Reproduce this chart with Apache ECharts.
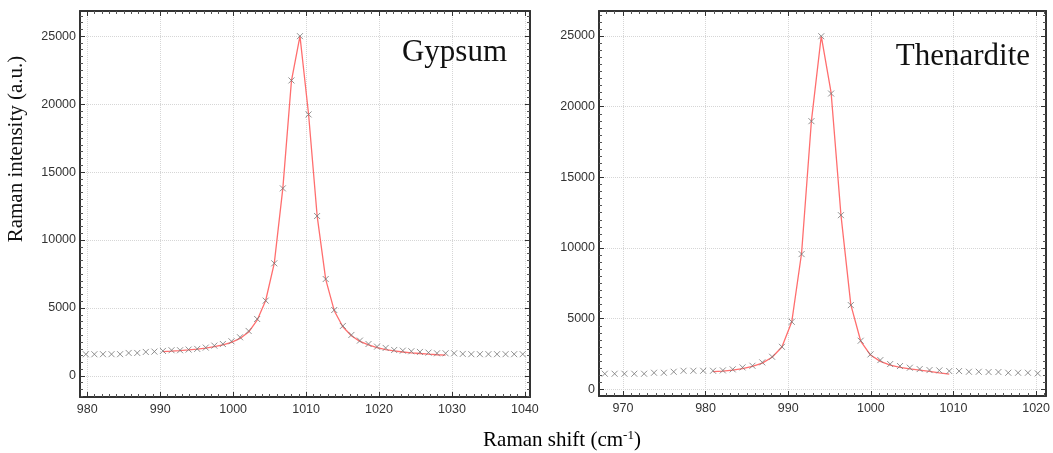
<!DOCTYPE html>
<html>
<head>
<meta charset="utf-8">
<title>Raman spectra</title>
<script src="https://cdn.jsdelivr.net/npm/echarts/dist/echarts.min.js"></script>
<style>
    html, body { margin: 0; padding: 0; background: #fff; }
    #main { width: 1053px; height: 453px; }
</style>
</head>
<body>
<div id="main"></div>
<script>
// Gypsum: measured points (x marks) and fitted curve
var gypsumShift = [979.80, 980.97, 982.15, 983.32, 984.50, 985.67, 986.85, 988.02, 989.20, 990.37,
    991.55, 992.72, 993.89, 995.07, 996.24, 997.42, 998.59, 999.77, 1000.94, 1002.12,
    1003.29, 1004.46, 1005.64, 1006.81, 1007.99, 1009.16, 1010.34, 1011.51, 1012.69, 1013.86,
    1015.04, 1016.21, 1017.38, 1018.56, 1019.73, 1020.91, 1022.08, 1023.26, 1024.43, 1025.61,
    1026.78, 1027.95, 1029.13, 1030.30, 1031.48, 1032.65, 1033.83, 1035.00, 1036.18, 1037.35,
    1038.53, 1039.70];
var gypsumCounts = [1595, 1595, 1600, 1600, 1600, 1690, 1690, 1765, 1790, 1840,
    1890, 1890, 1940, 1990, 2085, 2230, 2350, 2550, 2845, 3310,
    4190, 5540, 8285, 13800, 21740, 25000, 19240, 11765, 7130, 4850,
    3675, 3015, 2600, 2350, 2155, 2060, 1910, 1860, 1815, 1765,
    1715, 1665, 1665, 1665, 1620, 1600, 1600, 1600, 1600, 1600,
    1600, 1600];
var gypsumFitShift = [990.37, 991.55, 992.72, 993.89, 995.07, 996.24, 997.42, 998.59, 999.77, 1000.94,
    1002.12, 1003.29, 1004.46, 1005.64, 1006.81, 1007.99, 1009.16, 1010.34, 1011.51, 1012.69,
    1013.86, 1015.04, 1016.21, 1017.38, 1018.56, 1019.73, 1020.91, 1022.08, 1023.26, 1024.43,
    1025.61, 1026.78, 1027.95, 1029.13];
var gypsumFit = [1790, 1820, 1860, 1910, 1970, 2050, 2150, 2280, 2470, 2760,
    3230, 4100, 5550, 8300, 13800, 21700, 25000, 19250, 11800, 7100,
    4800, 3620, 2960, 2540, 2280, 2080, 1940, 1840, 1760, 1700,
    1650, 1600, 1560, 1530];

// Thenardite
var thenarditeShift = [967.80, 968.99, 970.18, 971.37, 972.56, 973.76, 974.95, 976.14, 977.33, 978.52,
    979.71, 980.90, 982.09, 983.28, 984.47, 985.67, 986.86, 988.05, 989.24, 990.43,
    991.62, 992.81, 994.00, 995.19, 996.38, 997.58, 998.77, 999.96, 1001.15, 1002.34,
    1003.53, 1004.72, 1005.91, 1007.10, 1008.29, 1009.49, 1010.68, 1011.87, 1013.06, 1014.25,
    1015.44, 1016.63, 1017.82, 1019.01, 1020.20];
var thenarditeCounts = [1105, 1105, 1105, 1105, 1105, 1175, 1175, 1245, 1315, 1315,
    1315, 1315, 1340, 1415, 1555, 1670, 1910, 2305, 3010, 4780,
    9570, 18975, 24985, 20930, 12325, 5960, 3440, 2475, 2070, 1790,
    1650, 1530, 1435, 1365, 1340, 1295, 1295, 1245, 1245, 1225,
    1225, 1175, 1175, 1175, 1130];
var thenarditeFitShift = [980.90, 982.09, 983.28, 984.47, 985.67, 986.86, 988.05, 989.24, 990.43, 991.62,
    992.81, 994.00, 995.19, 996.38, 997.58, 998.77, 999.96, 1001.15, 1002.34, 1003.53,
    1004.72, 1005.91, 1007.10, 1008.29, 1009.49];
var thenarditeFit = [1250, 1290, 1360, 1470, 1620, 1860, 2270, 3000, 4780, 9650,
    19000, 25000, 21000, 12350, 5980, 3420, 2430, 1980, 1720, 1560,
    1450, 1360, 1270, 1170, 1080];

var panelTitles = ['Gypsum', 'Thenardite'];
var xAxisTitle = 'Raman shift (cm';
var yAxisTitle = 'Raman intensity (a.u.)';

(function () {
    var myChart = echarts.init(document.getElementById('main'));

    var tickFont = "'Liberation Sans Narrow', 'Arial Narrow', 'Liberation Sans', Arial, sans-serif";
    var serif = "'Liberation Serif', 'Times New Roman', serif";
    var xMark = 'path://M0,0L10,10M0,10L10,0';

    function pairs(xs, ys) {
        var out = [];
        for (var i = 0; i < xs.length; i++) out.push([xs[i], ys[i]]);
        return out;
    }

    // frame axis: all four sides get ticks pointing inward, labels only on bottom/left
    function frameAxis(grid, pos, min, max, split) {
        var main = (pos === 'bottom' || pos === 'left');
        return {
            type: 'value',
            gridIndex: grid,
            position: pos,
            min: min,
            max: max,
            splitNumber: split,
            axisLine: { show: true, onZero: false, lineStyle: { color: '#333', width: 2 } },
            axisTick: { show: true, inside: true, length: 5, lineStyle: { color: '#333' } },
            minorTick: { show: true, splitNumber: 10, length: 3, lineStyle: { color: '#555' } },
            axisLabel: {
                show: main,
                showMinLabel: false,
                showMaxLabel: false,
                margin: pos === 'bottom' ? 6 : 4,
                color: '#333',
                fontSize: 12.5,
                fontFamily: tickFont,
                formatter: function (v) { return String(v); }
            },
            splitLine: { show: main, lineStyle: { color: '#d6d6d6', type: 'dotted' } }
        };
    }

    var option = {
        animation: false,
        backgroundColor: '#fff',
        grid: [
            { left: 80, right: 523, top: 11, bottom: 56 },
            { left: 599, right: 4, top: 11, bottom: 57 }
        ],
        xAxis: [
            frameAxis(0, 'bottom', 979, 1040.7, 6),
            frameAxis(0, 'top', 979, 1040.7, 6),
            frameAxis(1, 'bottom', 967.1, 1021.2, 5),
            frameAxis(1, 'top', 967.1, 1021.2, 5)
        ],
        yAxis: [
            frameAxis(0, 'left', -1550, 26850, 6),
            frameAxis(0, 'right', -1550, 26850, 6),
            frameAxis(1, 'left', -470, 26770, 6),
            frameAxis(1, 'right', -470, 26770, 6)
        ],
        series: [{
            type: 'line',
            xAxisIndex: 0, yAxisIndex: 0,
            data: pairs(gypsumFitShift, gypsumFit),
            showSymbol: false,
            lineStyle: { color: '#ff6e6e', width: 1.3 },
            z: 2
        }, {
            type: 'scatter',
            xAxisIndex: 0, yAxisIndex: 0,
            data: pairs(gypsumShift, gypsumCounts),
            symbol: xMark,
            symbolSize: 6,
            itemStyle: { color: 'none', borderColor: '#777', borderWidth: 1 },
            z: 3
        }, {
            type: 'line',
            xAxisIndex: 2, yAxisIndex: 2,
            data: pairs(thenarditeFitShift, thenarditeFit),
            showSymbol: false,
            lineStyle: { color: '#ff6e6e', width: 1.3 },
            z: 2
        }, {
            type: 'scatter',
            xAxisIndex: 2, yAxisIndex: 2,
            data: pairs(thenarditeShift, thenarditeCounts),
            symbol: xMark,
            symbolSize: 6,
            itemStyle: { color: 'none', borderColor: '#777', borderWidth: 1 },
            z: 3
        }],
        graphic: [{
            type: 'text', z: 10,
            style: { text: panelTitles[0], x: 507, y: 53, align: 'right', verticalAlign: 'middle',
                font: '31px ' + serif, fill: '#111' }
        }, {
            type: 'text', z: 10,
            style: { text: panelTitles[1], x: 1030, y: 57, align: 'right', verticalAlign: 'middle',
                font: '31px ' + serif, fill: '#111' }
        }, {
            type: 'text', z: 10,
            x: 16, y: 149, rotation: Math.PI / 2,
            style: { text: yAxisTitle, x: 0, y: 0, align: 'center', verticalAlign: 'middle',
                font: '21px ' + serif, fill: '#111' }
        }, {
            type: 'text', z: 10,
            style: {
                text: '{a|' + xAxisTitle + '}{b|-1}{a|)}',
                x: 562, y: 440, align: 'center', verticalAlign: 'middle',
                rich: {
                    a: { fontSize: 21, fontFamily: serif, color: '#111', lineHeight: 22 },
                    b: { fontSize: 13, fontFamily: serif, color: '#111', lineHeight: 10, verticalAlign: 'top' }
                }
            }
        }]
    };

    myChart.setOption(option);
    window.addEventListener('resize', function () {
        myChart.resize();
    });
})();
</script>
</body>
</html>
